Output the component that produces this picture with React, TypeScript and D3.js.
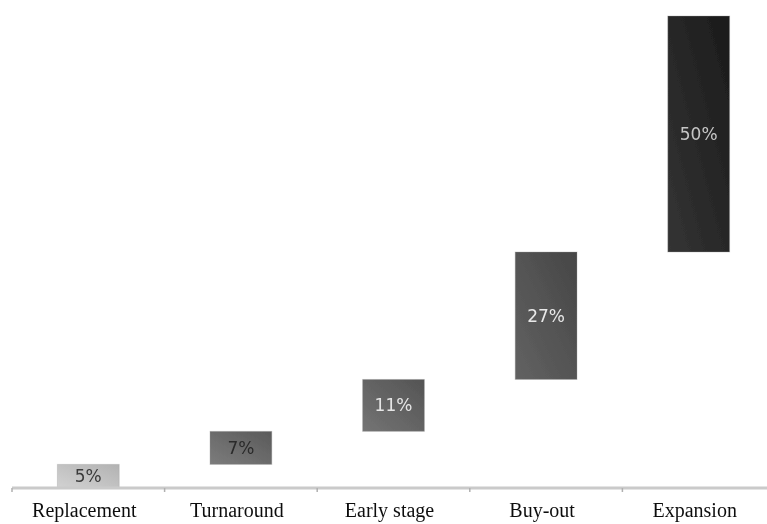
import React from "react";
import * as d3 from "d3";

// Share of investment by stage (%), stacked as a waterfall
const categories = ["Replacement", "Turnaround", "Early stage", "Buy-out", "Expansion"];
const shares = [5, 7, 11, 27, 50];
const valueLabels = ["5%", "7%", "11%", "27%", "50%"];

// Bar fills (light to dark) and the text colour that sits on each
const barFills: [string, string][] = [
  ["#d2d2d2", "#b2b2b2"],
  ["#7c7c7c", "#5a5a5a"],
  ["#747474", "#545454"],
  ["#626262", "#464646"],
  ["#343434", "#1b1b1b"],
];
const labelColors = ["#3a3a3a", "#2a2a2a", "#e6e6e6", "#e8e8e8", "#c6c6c6"];

const W = 767;
const H = 524;
const axisY = 488;
const topY = 16;

export default function App() {
  const x = d3.scaleBand<string>().domain(categories).range([12, 775]).padding(0);
  const y = d3.scaleLinear().domain([0, 100]).range([axisY, topY]);

  const ends = Array.from(d3.cumsum(shares));
  const starts = ends.map((e, i) => e - shares[i]);
  const step = x.step();
  const barW = step * 0.405;
  const ticks = categories.map((c) => x(c) as number);

  return (
    <svg
      width={W}
      height={H}
      style={{ position: "absolute", left: 0, top: 0, background: "#fff" }}
    >
      <defs>
        {barFills.map((f, i) => (
          <linearGradient key={i} id={`bar-g-${i}`} x1="0" y1="1" x2="1" y2="0">
            <stop offset="0%" stopColor={f[0]} />
            <stop offset="100%" stopColor={f[1]} />
          </linearGradient>
        ))}
        <filter id="soft" x="-10%" y="-10%" width="120%" height="120%">
          <feGaussianBlur stdDeviation="0.6" />
        </filter>
      </defs>

      <g filter="url(#soft)">
        {categories.map((c, i) => {
          const cx = (x(c) as number) + step / 2;
          const y0 = y(starts[i]);
          const y1 = y(ends[i]);
          return (
            <g key={c}>
              <rect
                x={cx - barW / 2}
                y={y1}
                width={barW}
                height={y0 - y1}
                fill={`url(#bar-g-${i})`}
                stroke="#9a9a9a"
                strokeOpacity={0.35}
                strokeWidth={1}
              />
              <text
                x={cx}
                y={(y0 + y1) / 2}
                textAnchor="middle"
                dominantBaseline="central"
                fontFamily="DejaVu Sans, sans-serif"
                fontSize={17}
                fill={labelColors[i]}
              >
                {valueLabels[i]}
              </text>
            </g>
          );
        })}

        <line x1={12} x2={W} y1={axisY} y2={axisY} stroke="#cacaca" strokeWidth={3} />
        {ticks.map((t, i) => (
          <line key={i} x1={t} x2={t} y1={axisY} y2={axisY + 4} stroke="#b0b0b0" strokeWidth={1.5} />
        ))}

        {categories.map((c) => (
          <text
            key={c}
            x={(x(c) as number) + step / 2 - 4}
            y={517}
            textAnchor="middle"
            fontFamily="Liberation Serif, Times New Roman, serif"
            fontSize={20}
            fill="#111"
          >
            {c}
          </text>
        ))}
      </g>
    </svg>
  );
}
